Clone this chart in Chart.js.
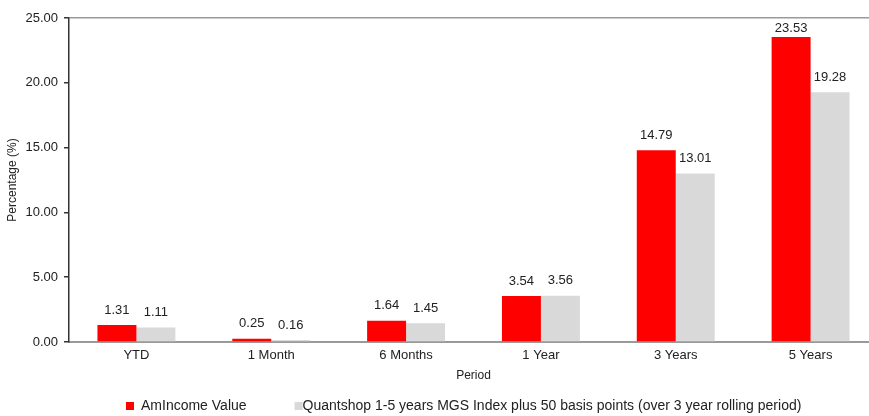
<!DOCTYPE html>
<html>
<head>
<meta charset="utf-8">
<script src="https://cdn.jsdelivr.net/npm/chart.js@4"></script>
<style>
    html, body { margin: 0; padding: 0; background: #fff; overflow: hidden; }
    #wrap { width: 880px; height: 416px; }
</style>
</head>
<body>
<div id="wrap"><canvas id="perfChart" width="880" height="416"></canvas></div>
<script>
const periods = ["YTD", "1 Month", "6 Months", "1 Year", "3 Years", "5 Years"];
const fundValues = [1.31, 0.25, 1.64, 3.54, 14.79, 23.53];
const benchmarkValues = [1.11, 0.16, 1.45, 3.56, 13.01, 19.28];
const yTicks = [0, 5, 10, 15, 20, 25];
const fundLabel = "AmIncome Value";
const benchmarkLabel = "Quantshop 1-5 years MGS Index plus 50 basis points (over 3 year rolling period)";
const fontFamily = "'Liberation Sans', Arial, Helvetica, sans-serif";

// value labels above each bar
const barLabels = {
    id: "barLabels",
    afterDatasetsDraw(chart) {
        const { ctx, chartArea } = chart;
        ctx.save();
        ctx.font = `13px ${fontFamily}`;
        ctx.fillStyle = "#222";
        ctx.textAlign = "center";
        ctx.textBaseline = "middle";
        chart.data.datasets.forEach((dataset, i) => {
            chart.getDatasetMeta(i).data.forEach((bar, j) => {
                const y = Math.max(bar.y - 15, chartArea.top + 10);
                ctx.fillText(dataset.data[j].toFixed(2), bar.x, y);
            });
        });
        ctx.restore();
    }
};

// legend drawn at the bottom like the original
const bottomLegend = {
    id: "bottomLegend",
    afterDraw(chart) {
        const { ctx } = chart;
        ctx.save();
        ctx.font = `14px ${fontFamily}`;
        ctx.textBaseline = "middle";
        const y = 406;
        let x = 126;
        chart.data.datasets.forEach((dataset, i) => {
            ctx.fillStyle = dataset.backgroundColor;
            ctx.fillRect(x, y - 4, 8, 8);
            const textX = x + (i === 0 ? 15 : 8);
            ctx.fillStyle = "#222";
            ctx.fillText(dataset.label, textX, y);
            x = textX + ctx.measureText(dataset.label).width + 48;
        });
        ctx.restore();
    }
};

new Chart(document.getElementById("perfChart"), {
    type: "bar",
    data: {
        labels: periods,
        datasets: [
            { label: fundLabel, data: fundValues, backgroundColor: "#ff0000", categoryPercentage: 0.578, barPercentage: 1 },
            { label: benchmarkLabel, data: benchmarkValues, backgroundColor: "#d9d9d9", categoryPercentage: 0.578, barPercentage: 1 }
        ]
    },
    options: {
        responsive: false,
        animation: false,
        layout: { padding: { top: 18, right: 2, bottom: 0, left: 0 } },
        plugins: { legend: { display: false }, tooltip: { enabled: false } },
        scales: {
            x: {
                afterFit: (scale) => { scale.height = 74; },
                grid: { display: false, drawTicks: false },
                border: { color: "#9a9a9a", width: 2 },
                ticks: { color: "#222", padding: 6, font: { family: fontFamily, size: 13 } },
                title: { display: true, text: "Period", color: "#222", padding: { top: 0, bottom: 33 }, font: { family: fontFamily, size: 12 } }
            },
            y: {
                min: 0,
                max: 25,
                afterBuildTicks: (scale) => { scale.ticks = yTicks.map((value) => ({ value })); },
                afterFit: (scale) => { scale.width = 69; },
                grid: {
                    drawOnChartArea: true,
                    color: (ctx) => (ctx.tick && ctx.tick.value === 25 ? "#9a9a9a" : "rgba(0,0,0,0)"),
                    lineWidth: 1.5,
                    tickColor: "#333",
                    tickLength: 5
                },
                border: { color: "#333", width: 1.5 },
                ticks: { color: "#222", padding: 6, font: { family: fontFamily, size: 13 }, callback: (value) => value.toFixed(2) },
                title: { display: true, text: "Percentage (%)", color: "#222", padding: { top: 5, bottom: 0 }, font: { family: fontFamily, size: 12 } }
            }
        }
    },
    plugins: [barLabels, bottomLegend]
});
</script>
</body>
</html>
